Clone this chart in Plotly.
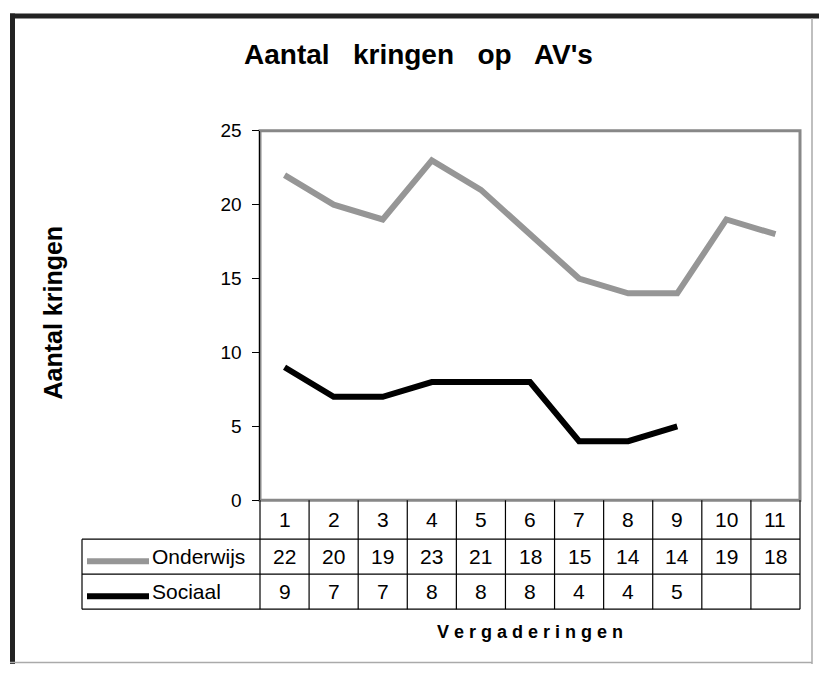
import plotly.graph_objects as go

# ---- data ----
categories = ["1", "2", "3", "4", "5", "6", "7", "8", "9", "10", "11"]
onderwijs = [22, 20, 19, 23, 21, 18, 15, 14, 14, 19, 18]
sociaal = [9, 7, 7, 8, 8, 8, 4, 4, 5, None, None]
series_names = ["Onderwijs", "Sociaal"]
series_colors = ["#969696", "#000000"]
y_ticks = [0, 5, 10, 15, 20, 25]

W, H = 819, 675
# the photographed page shows the figure slightly compressed vertically;
# convert target picture rows to figure rows
SY, OY = 0.9702, 9.06
def px(x):
    return x / W
def py(y):
    yy = (y - OY) / SY
    yy = min(max(yy, 0.0), H)
    return (H - yy) / H

FONT = "Liberation Sans, Arial, sans-serif"
xdom = [px(260), px(800)]
ydom = [py(500), py(130)]
n = len(categories)
xi = list(range(n))

fig = go.Figure()
fig.add_trace(go.Scatter(x=xi, y=onderwijs, mode="lines", name=series_names[0],
                         line=dict(color=series_colors[0], width=6), connectgaps=False))
fig.add_trace(go.Scatter(x=xi, y=sociaal, mode="lines", name=series_names[1],
                         line=dict(color=series_colors[1], width=6), connectgaps=False))

shapes = []
shapes.append(dict(type="rect", xref="x domain", yref="y domain", x0=0, x1=1, y0=0, y1=1,
                   line=dict(color="#888888", width=3), layer="below"))

row_cat_bot = py(539)
row1_bot = py(574)
row2_bot = py(609)
table_left = (82 - 260) / 540.0

lc = dict(color="#000000", width=1.2)
for k in range(n + 1):
    shapes.append(dict(type="line", xref="x domain", yref="paper", x0=k / n, x1=k / n,
                       y0=row2_bot, y1=ydom[0], line=lc))
for yy in [row_cat_bot, row1_bot, row2_bot]:
    shapes.append(dict(type="line", xref="x domain", yref="paper", x0=table_left, x1=1,
                       y0=yy, y1=yy, line=lc))
shapes.append(dict(type="line", xref="x domain", yref="paper", x0=table_left, x1=table_left,
                   y0=row2_bot, y1=row_cat_bot, line=lc))

key_y = [py(561), py(596)]
for c, ky in zip(series_colors, key_y):
    shapes.append(dict(type="line", xref="paper", yref="paper", x0=px(87), x1=px(149),
                       y0=ky, y1=ky, line=dict(color=c, width=6)))

# outer frame
shapes.append(dict(type="line", xref="paper", yref="paper", x0=px(10), x1=px(819),
                   y0=py(15), y1=py(15), line=dict(color="#222222", width=5)))
shapes.append(dict(type="line", xref="paper", yref="paper", x0=px(12.5), x1=px(12.5),
                   y0=py(12.5), y1=py(680), line=dict(color="#222222", width=5)))
shapes.append(dict(type="line", xref="paper", yref="paper", x0=px(812), x1=px(812),
                   y0=py(17), y1=py(680), line=dict(color="#aaaaaa", width=1.5)))
shapes.append(dict(type="line", xref="paper", yref="paper", x0=px(10), x1=px(812),
                   y0=(H - 673.5) / H, y1=(H - 673.5) / H, line=dict(color="#aaaaaa", width=1.5)))

annotations = []
tf = dict(family=FONT, size=21, color="#000000")
cat_y = (py(500) + row_cat_bot) / 2
r1_y = (row_cat_bot + row1_bot) / 2
r2_y = (row1_bot + row2_bot) / 2
for i, c in enumerate(categories):
    annotations.append(dict(x=i, y=cat_y, xref="x", yref="paper", text=c, showarrow=False,
                            font=tf, xanchor="center", yanchor="middle"))
for vals, ry in [(onderwijs, r1_y), (sociaal, r2_y)]:
    for i, v in enumerate(vals):
        if v is None:
            continue
        annotations.append(dict(x=i, y=ry, xref="x", yref="paper", text=str(v), showarrow=False,
                                font=tf, xanchor="center", yanchor="middle"))
for name, ry in zip(series_names, [r1_y, r2_y]):
    annotations.append(dict(x=px(150), y=ry, xref="paper", yref="paper", text=name,
                            showarrow=False, font=tf, xanchor="left", yanchor="middle"))

annotations.append(dict(x=px(419), y=py(54), xref="paper", yref="paper",
                        text="Aantal   kringen   op   AV's", showarrow=False,
                        font=dict(family=FONT, size=28, color="#000000", weight="bold"),
                        xanchor="center", yanchor="middle"))
annotations.append(dict(x=px(530), y=py(632), xref="paper", yref="paper",
                        text=" ".join("Vergaderingen"), showarrow=False,
                        font=dict(family=FONT, size=18, color="#000000", weight="bold"),
                        xanchor="center", yanchor="middle"))
annotations.append(dict(x=px(53), y=py(312), xref="paper", yref="paper",
                        text="Aantal kringen", showarrow=False, textangle=-90,
                        font=dict(family=FONT, size=25, color="#000000", weight="bold"),
                        xanchor="center", yanchor="middle"))

fig.update_layout(
    width=W, height=H,
    margin=dict(l=0, r=0, t=0, b=0),
    paper_bgcolor="#ffffff", plot_bgcolor="#ffffff",
    showlegend=False,
    shapes=shapes, annotations=annotations,
    xaxis=dict(domain=xdom, range=[-0.5, n - 0.5], showgrid=False, zeroline=False,
               showticklabels=False, ticks="", showline=False, fixedrange=True),
    yaxis=dict(domain=ydom, range=[0, 25], tickvals=y_ticks, showgrid=False, zeroline=False,
               showline=True, linecolor="#000000", linewidth=1.5, ticks="outside",
               ticklen=7, tickcolor="#000000", tickwidth=1.2,
               tickfont=dict(family=FONT, size=19, color="#000000"),
               ticklabelstandoff=6, fixedrange=True),
)

post = (
    "document.documentElement.style.margin='0';"
    "document.documentElement.style.overflow='hidden';"
    "document.body.style.margin='0';"
    "document.body.style.overflow='hidden';"
    "var d=document.getElementById('{plot_id}');"
    "d.style.position='fixed';d.style.top='0px';d.style.left='0px';"
)
fig.write_html("out.html", config={"displayModeBar": False, "staticPlot": True}, post_script=post)
